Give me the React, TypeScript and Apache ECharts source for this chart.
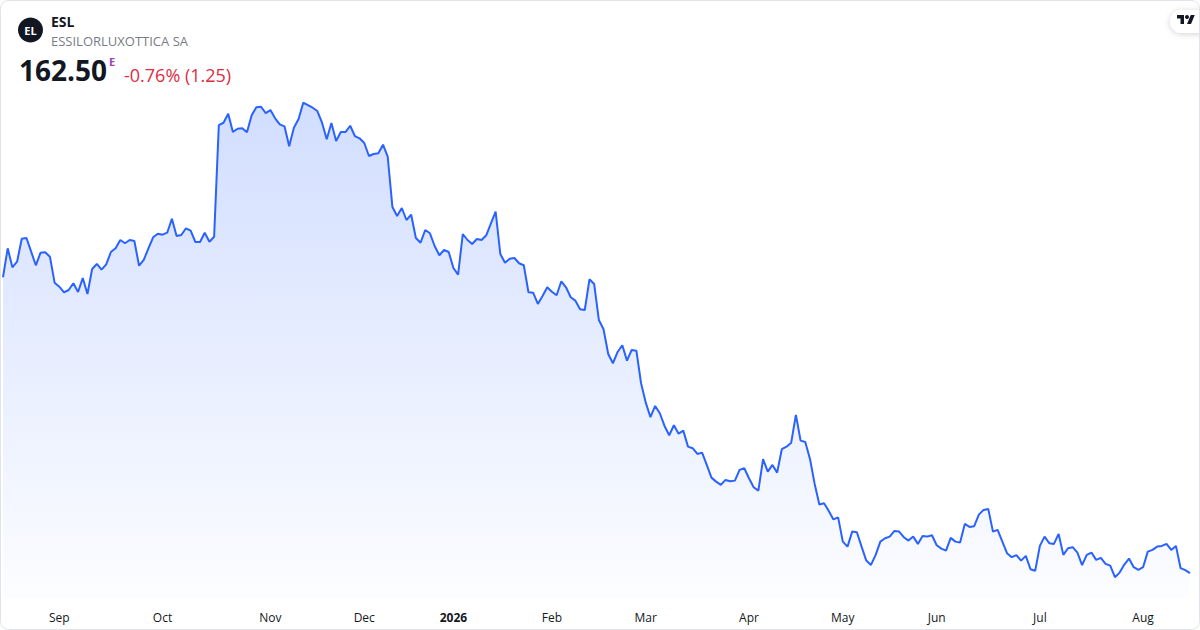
import React, { useEffect, useRef } from "react";
import * as echarts from "echarts";

// Daily closing prices (trading days)
const prices: number[] = [
  242.42, 250.25, 245.12, 246.63, 252.84, 253.03, 249.33, 245.66, 249.06, 249.17,
  247.98, 240.96, 239.88, 238.37, 238.99, 240.8, 238.45, 242.23, 237.91, 244.66,
  246.01, 244.47, 245.93, 249.25, 250.25, 252.49, 251.6, 252.49, 252.22, 245.55,
  247.09, 250.25, 253.22, 254.19, 253.92, 254.46, 258.24, 253.57, 253.84, 255.65,
  255.0, 251.95, 251.95, 254.46, 252.03, 253.38, 283.54, 284.16, 286.59, 281.65,
  282.54, 282.65, 281.57, 286.16, 288.32, 288.48, 286.78, 287.59, 285.35, 283.73,
  283.19, 277.79, 282.81, 285.16, 289.56, 288.94, 288.21, 287.32, 284.16, 279.68,
  284.08, 279.22, 281.65, 281.65, 283.35, 280.57, 279.95, 278.68, 275.17, 275.71,
  275.9, 278.22, 274.98, 261.4, 258.97, 261.13, 257.89, 259.32, 253.03, 251.76,
  255.19, 254.3, 250.87, 248.36, 249.79, 249.25, 244.93, 243.12, 254.11, 252.49,
  251.41, 252.76, 252.49, 253.76, 257.0, 260.13, 248.71, 246.36, 247.44, 247.63,
  246.2, 245.66, 238.37, 238.26, 235.21, 237.37, 239.72, 238.53, 237.56, 241.34,
  239.72, 237.02, 236.1, 233.78, 233.59, 241.88, 240.61, 230.89, 228.38, 221.71,
  219.2, 222.25, 224.06, 219.9, 222.79, 222.6, 213.8, 208.56, 204.62, 207.67,
  205.7, 202.27, 199.76, 202.46, 200.19, 201.0, 196.68, 196.25, 194.71, 195.06,
  191.74, 188.31, 187.23, 186.34, 187.69, 187.34, 187.5, 190.39, 190.85, 188.15,
  185.72, 184.8, 193.28, 189.93, 191.74, 189.66, 195.98, 196.68, 197.76, 205.24,
  198.3, 197.95, 193.36, 186.61, 181.07, 181.4, 179.32, 177.02, 177.56, 171.03,
  169.68, 173.73, 173.57, 169.68, 165.9, 164.74, 167.44, 171.03, 171.95, 172.38,
  173.92, 173.73, 172.22, 171.3, 172.38, 170.41, 172.57, 172.38, 172.76, 170.06,
  169.14, 168.6, 172.03, 171.03, 170.76, 175.81, 175.0, 175.19, 178.32, 179.59,
  179.86, 173.73, 174.19, 171.03, 167.9, 166.82, 167.36, 165.9, 167.17, 163.58,
  163.12, 169.87, 172.38, 170.6, 170.41, 173.11, 167.44, 169.25, 169.52, 168.06,
  164.66, 167.44, 168.06, 166.09, 166.63, 165.01, 164.55, 161.42, 162.66, 164.82,
  166.44, 164.12, 163.39, 164.12, 168.33, 168.79, 169.68, 169.87, 170.41, 168.79,
  169.87, 163.85, 163.31, 162.5,
];

// Month tick labels: index of the trading day where the label sits
const tickIndices: number[] = [12, 34, 57, 77, 96, 117, 137, 159, 179, 199, 221, 243];
const tickLabels: string[] = ["Sep", "Oct", "Nov", "Dec", "2026", "Feb", "Mar", "Apr", "May", "Jun", "Jul", "Aug"];

const symbol = "ESL";
const companyName = "ESSILORLUXOTTICA SA";
const lastPrice = "162.50";
const changeText = "-0.76% (1.25)";

const FONT = "'Open Sans', 'Noto Sans', sans-serif";

echarts.graphic.registerShape(
  "tvlogo",
  echarts.graphic.extendPath("M14 22H7V11H0V4h14v18zM28 22h-8l7.5-18h8L28 22z", {})
);

export default function App() {
  const ref = useRef<HTMLDivElement>(null);

  useEffect(() => {
    if (!ref.current) return;
    const chart = echarts.init(ref.current, null, { renderer: "svg" });
    const categories = prices.map((_, i) => String(i));
    const labelMap: Record<number, string> = {};
    tickIndices.forEach((idx, k) => (labelMap[idx] = tickLabels[k]));

    chart.setOption({
      animation: false,
      backgroundColor: "#ffffff",
      grid: {
        left: 3,
        right: 10,
        top: 100,
        bottom: 32,
        containLabel: false,
        outerBoundsMode: "none",
      },
      xAxis: {
        type: "category",
        data: categories,
        boundaryGap: false,
        axisLine: { show: false },
        axisTick: { show: false },
        splitLine: { show: false },
        axisLabel: {
          interval: (index: number) => labelMap[index] !== undefined,
          formatter: (_v: string, index: number) => {
            const t = labelMap[index];
            if (t === undefined) return "";
            return /^\d{4}$/.test(t) ? `{b|${t}}` : t;
          },
          color: "#131722",
          fontSize: 12,
          fontFamily: FONT,
          margin: 13,
          hideOverlap: false,
          rich: {
            b: { fontWeight: "bold", fontSize: 12, color: "#131722", fontFamily: FONT },
          },
        },
      },
      yAxis: {
        type: "value",
        show: false,
        min: 155.8,
        max: 290.3,
        splitLine: { show: false },
      },
      series: [
        {
          type: "line",
          data: prices,
          symbol: "none",
          smooth: false,
          lineStyle: { color: "#2962ff", width: 2 },
          areaStyle: {
            color: new echarts.graphic.LinearGradient(0, 0, 0, 1, [
              { offset: 0, color: "rgba(41,98,255,0.30)" },
              { offset: 1, color: "rgba(41,98,255,0.02)" },
            ]),
          },
        },
      ],
      graphic: [
        {
          type: "rect",
          shape: { x: 0.5, y: 0.5, width: 1199, height: 629, r: 8 },
          style: { fill: "none", stroke: "#e0e3eb", lineWidth: 1 },
          silent: true,
          z: 100,
        },
        {
          type: "circle",
          shape: { cx: 30.5, cy: 30, r: 12.5 },
          style: { fill: "#131722" },
        },
        {
          type: "text",
          x: 30.5,
          y: 30.5,
          style: {
            text: "EL",
            fill: "#ffffff",
            font: `bold 11px ${FONT}`,
            align: "center",
            verticalAlign: "middle",
          },
        },
        {
          type: "text",
          x: 51,
          y: 21,
          style: {
            text: symbol,
            fill: "#131722",
            font: `bold 14px ${FONT}`,
            verticalAlign: "middle",
          },
        },
        {
          type: "text",
          x: 51,
          y: 41,
          style: {
            text: companyName,
            fill: "#787b86",
            font: `13px ${FONT}`,
            verticalAlign: "middle",
          },
        },
        {
          type: "text",
          x: 19,
          y: 84,
          style: {
            text: lastPrice,
            fill: "#131722",
            font: `bold 28px ${FONT}`,
            verticalAlign: "bottom",
          },
        },
        {
          type: "text",
          x: 109,
          y: 61,
          style: {
            text: "E",
            fill: "#a040c0",
            font: `bold 11px ${FONT}`,
            verticalAlign: "middle",
          },
        },
        {
          type: "text",
          x: 124,
          y: 84,
          style: {
            text: changeText,
            fill: "#dc2d44",
            font: `18px ${FONT}`,
            verticalAlign: "bottom",
          },
        },
        {
          type: "rect",
          shape: { x: 1170, y: 10, width: 44, height: 23, r: 11.5 },
          style: {
            fill: "#ffffff",
            shadowBlur: 6,
            shadowColor: "rgba(0,0,0,0.18)",
            shadowOffsetY: 1,
          },
        },
        {
          type: "tvlogo",
          x: 1177,
          y: 13,
          scaleX: 0.5,
          scaleY: 0.5,
          style: { fill: "#131722" },
        },
        {
          type: "circle",
          shape: { cx: 1187, cy: 17, r: 2 },
          style: { fill: "#131722" },
        },
      ],
    });
    return () => chart.dispose();
  }, []);

  return (
    <div
      ref={ref}
      style={{ position: "fixed", left: 0, top: 0, width: 1200, height: 630 }}
    />
  );
}
